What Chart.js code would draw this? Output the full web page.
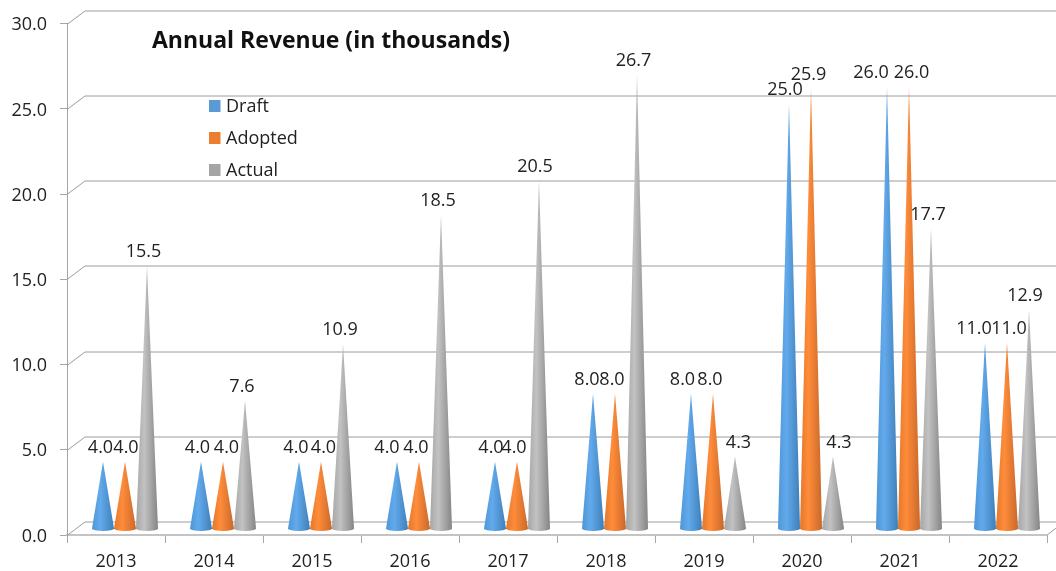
<!DOCTYPE html>
<html>
<head>
<meta charset="utf-8">
<title>Annual Revenue</title>
<script src="https://cdn.jsdelivr.net/npm/chart.js@4"></script>
<style>
  html, body { margin: 0; padding: 0; background: #fff; }
  #wrap { width: 1056px; height: 571px; }
</style>
</head>
<body>
<div id="wrap"><canvas id="revenueChart" width="1056" height="571"></canvas></div>
<script>
const years = ["2013", "2014", "2015", "2016", "2017", "2018", "2019", "2020", "2021", "2022"];
const draft = [4.0, 4.0, 4.0, 4.0, 4.0, 8.0, 8.0, 25.0, 26.0, 11.0];
const adopted = [4.0, 4.0, 4.0, 4.0, 4.0, 8.0, 8.0, 25.9, 26.0, 11.0];
const actual = [15.5, 7.6, 10.9, 18.5, 20.5, 26.7, 4.3, 4.3, 17.7, 12.9];
const seriesNames = ["Draft", "Adopted", "Actual"];
const seriesColors = ["#5b9bd5", "#ed7d31", "#a5a5a5"];
const yTicks = [0, 5, 10, 15, 20, 25, 30];

// left edge, middle, right edge of each cone
const coneShades = {
    "#5b9bd5": ["#4f96d6", "#62aaec", "#3f7fb8"],
    "#ed7d31": ["#e2782c", "#ff8c3a", "#c9682a"],
    "#a5a5a5": ["#a6a6a6", "#c2c2c2", "#858585"]
};

// the picture's labels don't sit exactly over their tips
const labelShiftX = [
    [-2.5, -3.5, -3, -10, -4, -6, -8.5, -4, -16, -11],
    [1, 3.5, 2.5, -3, -3, -3, -3, -2.5, 2.5, 2],
    [-3.5, -3, -3, -3, -4, -3.5, 3.5, 6, -3, -4]
];

const font = "'Open Sans', Lato, sans-serif";
const depthX = 18, depthY = 13.5;   // back wall offset of the fake 3D box
const coneX = 9, coneY = 4;         // cones stand in the middle of the floor

class ConeElement extends Chart.BarElement {
    draw(ctx) {
        const { x, y, base, width } = this.getProps(["x", "y", "base", "width"]);
        const shades = coneShades[this.options.backgroundColor] || [];
        const cx = x + coneX, tip = y - coneY - 1, floor = base - coneY - 2;
        const r = width / 2;
        const g = ctx.createLinearGradient(cx - r, 0, cx + r, 0);
        g.addColorStop(0, shades[0]);
        g.addColorStop(0.38, shades[1]);
        g.addColorStop(1, shades[2]);
        ctx.save();
        ctx.fillStyle = g;
        ctx.beginPath();
        ctx.moveTo(cx, tip);
        ctx.lineTo(cx + r, floor);
        ctx.ellipse(cx, floor, r, 2.5, 0, 0, Math.PI);
        ctx.closePath();
        ctx.fill();
        ctx.restore();
    }
}
ConeElement.id = "cone";
ConeElement.defaults = Chart.BarElement.defaults;

class ConeController extends Chart.BarController {}
ConeController.id = "coneBar";
ConeController.defaults = Object.assign({}, Chart.BarController.defaults, { dataElementType: "cone" });
ConeController.overrides = Chart.BarController.overrides;

Chart.register(ConeElement, ConeController);

// Back wall and floor lines
const wallPlugin = {
    id: "walls",
    beforeDatasetsDraw(chart) {
        const { ctx, chartArea, scales } = chart;
        ctx.save();
        ctx.strokeStyle = "#9c9c9c";
        ctx.lineWidth = 1;
        yTicks.forEach(v => {
            const y = Math.round(scales.y.getPixelForValue(v)) + 0.5;
            ctx.beginPath();
            ctx.moveTo(chartArea.left, y);
            ctx.lineTo(chartArea.left + depthX, y - depthY);
            ctx.lineTo(chartArea.right + depthX, y - depthY);
            ctx.stroke();
        });
        ctx.beginPath();
        ctx.moveTo(chartArea.right, chartArea.bottom);
        ctx.lineTo(chartArea.right + depthX, chartArea.bottom - depthY);
        ctx.stroke();
        ctx.restore();
    }
};

// Value labels, title and the legend that floats inside the plot
const textPlugin = {
    id: "texts",
    afterDatasetsDraw(chart) {
        const { ctx } = chart;
        ctx.save();
        ctx.fillStyle = "#222";
        ctx.font = "18px " + font;
        ctx.textAlign = "center";
        ctx.textBaseline = "middle";
        chart.data.datasets.forEach((ds, d) => {
            chart.getDatasetMeta(d).data.forEach((bar, i) => {
                ctx.fillText(ds.data[i].toFixed(1), bar.x + coneX + labelShiftX[d][i], bar.y - coneY - 15);
            });
        });

        ctx.textAlign = "left";
        seriesNames.forEach((name, i) => {
            const y = 106 + i * 32;
            ctx.fillStyle = seriesColors[i];
            ctx.fillRect(209, y - 6, 11.5, 12);
            ctx.fillStyle = "#222";
            ctx.fillText(name, 226, y + 1);
        });

        ctx.fillStyle = "#111";
        ctx.font = "bold 23px " + font;
        ctx.fillText("Annual Revenue (in thousands)", 152, 41);
        ctx.restore();
    }
};

new Chart(document.getElementById("revenueChart"), {
    type: "coneBar",
    data: {
        labels: years,
        datasets: [draft, adopted, actual].map((values, i) => ({
            label: seriesNames[i],
            data: values,
            backgroundColor: seriesColors[i]
        }))
    },
    plugins: [wallPlugin, textPlugin],
    options: {
        responsive: false,
        animation: false,
        layout: { padding: { top: 23, right: 9 } },
        plugins: {
            legend: { display: false },
            title: { display: false },
            tooltip: { enabled: false }
        },
        datasets: { coneBar: { barPercentage: 1, categoryPercentage: 66 / 98 } },
        scales: {
            x: {
                type: "category",
                afterFit: s => { s.height = 36; },
                grid: { drawOnChartArea: false, color: "#a6a6a6", tickLength: 8, offset: true },
                border: { color: "#c4c4c4", width: 2 },
                ticks: { color: "#222", font: { family: font, size: 18 }, padding: 8, maxRotation: 0 }
            },
            y: {
                min: 0,
                max: 30,
                afterBuildTicks: s => { s.ticks = yTicks.map(v => ({ value: v })); },
                afterFit: s => { s.width = 67; },
                grid: { drawOnChartArea: false, color: "#a6a6a6", tickLength: 7 },
                border: { color: "#a6a6a6" },
                ticks: {
                    color: "#222",
                    font: { family: font, size: 18 },
                    padding: 13,
                    labelOffset: 1.5,
                    callback: v => v.toFixed(1)
                }
            }
        }
    }
});
</script>
</body>
</html>
